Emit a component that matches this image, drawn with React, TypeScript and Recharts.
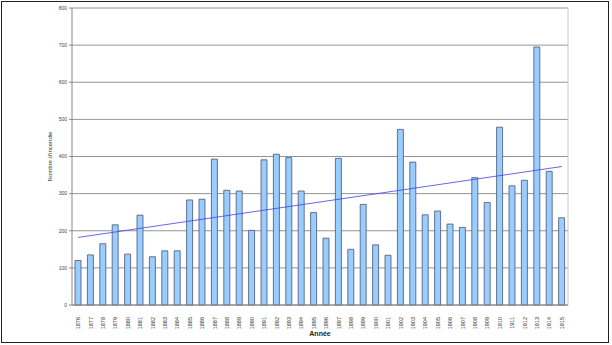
import { Bar, BarChart, CartesianGrid, Label, ReferenceLine, XAxis, YAxis } from "recharts";

const years = [
  "1876", "1877", "1878", "1879", "1880", "1881", "1882", "1883", "1884", "1885",
  "1886", "1887", "1888", "1889", "1890", "1891", "1892", "1893", "1894", "1895",
  "1896", "1897", "1898", "1899", "1900", "1901", "1902", "1903", "1904", "1905",
  "1906", "1907", "1908", "1909", "1910", "1911", "1912", "1913", "1914", "1915",
];

const fires = [
  120, 135, 165, 216, 137, 242, 130, 146, 146, 283,
  285, 393, 309, 307, 201, 391, 406, 397, 307, 249,
  180, 395, 150, 271, 162, 134, 473, 385, 243, 253,
  218, 209, 343, 276, 479, 321, 336, 695, 360, 235,
];

// trend line ends
const trendStart = 182;
const trendEnd = 373;

const yTicks = [0, 100, 200, 300, 400, 500, 600, 700, 800];

const data = years.map((year, i) => ({ year, fires: fires[i] }));

const FONT = "'Liberation Sans', Arial, sans-serif";

function YearTick({ x, y, payload }: { x: number; y: number; payload: { value: string } }) {
  return (
    <text
      x={0}
      y={0}
      transform={`translate(${x + 2},${y + 4}) rotate(-90)`}
      textAnchor="end"
      fontSize={5.5}
      fontFamily={FONT}
      fill="#333"
    >
      {payload.value}
    </text>
  );
}

export default function App() {
  return (
    <div style={{ position: "absolute", left: 0, top: 0, width: 612, height: 345, background: "#fff" }}>
      <BarChart width={612} height={345} data={data} margin={{ top: 8, right: 44, left: 0, bottom: 0 }}>
        <CartesianGrid horizontal vertical={false} stroke="#7a7a7a" strokeWidth={0.8} />
        <XAxis dataKey="year" height={40} stroke="#888" tickLine={false} interval={0} tick={YearTick as any}>
          <Label
            value="Année"
            position="insideBottom"
            offset={9}
            style={{ fontSize: 7, fontWeight: 700, fontFamily: FONT, fill: "#222" }}
          />
        </XAxis>
        <YAxis
          width={72}
          domain={[0, 800]}
          ticks={yTicks}
          interval={0}
          stroke="#888"
          tickSize={3}
          tick={{ fontSize: 5, fontFamily: FONT, fill: "#444" }}
        >
          <Label
            value="Nombre d'incendie"
            angle={-90}
            position="insideLeft"
            offset={50}
            style={{ fontSize: 6, fontFamily: FONT, fill: "#333", textAnchor: "middle" }}
          />
        </YAxis>
        <Bar dataKey="fires" barSize={6} fill="#99ccff" stroke="#4a5570" strokeWidth={0.8} isAnimationActive={false} />
        <ReferenceLine x={years[years.length - 1]} position="end" stroke="#c8c8c8" strokeWidth={1} />
        <ReferenceLine
          segment={[
            { x: years[0], y: trendStart },
            { x: years[years.length - 1], y: trendEnd },
          ]}
          stroke="#4040e8"
          strokeWidth={0.8}
        />
      </BarChart>
      <div
        style={{
          position: "absolute",
          left: 1,
          top: 1,
          width: 606,
          height: 340,
          border: "1.5px solid #222",
          pointerEvents: "none",
        }}
      />
    </div>
  );
}
